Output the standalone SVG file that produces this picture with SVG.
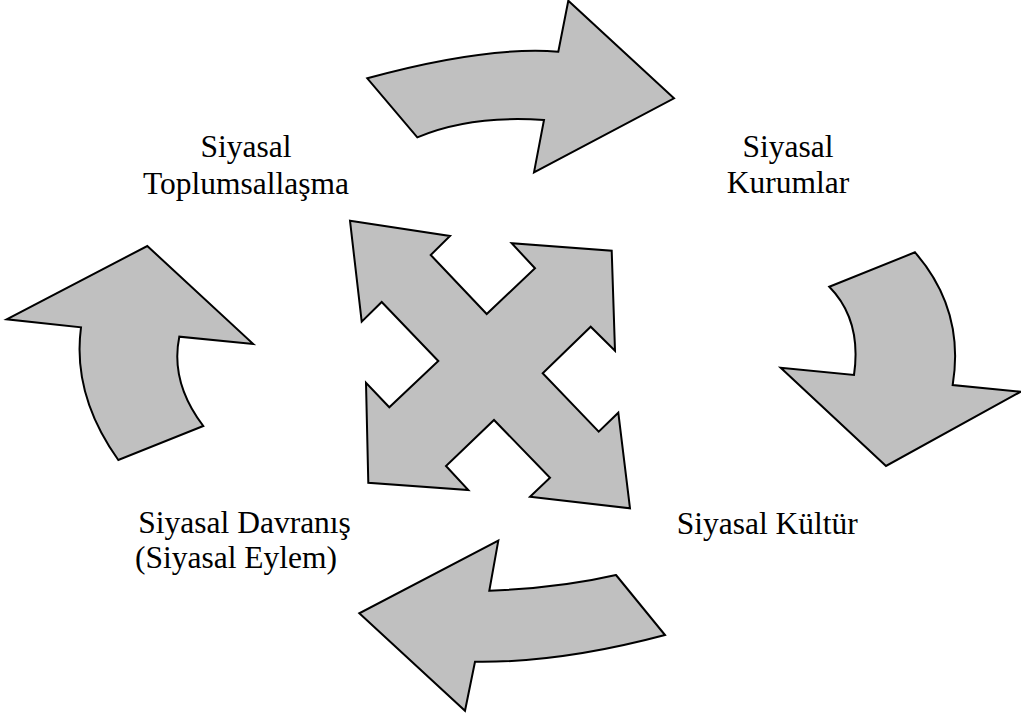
<svg xmlns="http://www.w3.org/2000/svg" width="1021" height="717" viewBox="0 0 1021 717">
<style>
.arr{fill:#c0c0c0;stroke:#000;stroke-width:2;stroke-linejoin:miter}
.lbl{font-family:"Liberation Serif","Times New Roman",serif;font-size:31.5px;fill:#000}
</style>
<rect width="1021" height="717" fill="#fff"/>
<g id="connectors">
<path id="arrow-top" class="arr" d="M367.3,78.3 Q485,46 558.3,51.7 L568.3,0.7 L674,98.3 L534,172.3 L544,120 Q470,115 417.3,137.3 Z"/>
<path id="arrow-right" class="arr" d="M829.3,286.7 L915,252.3 Q965,310 952.7,385 L1020.7,391.7 L886,466 L780.7,367.7 L854,375 Q862,320 829.3,286.7 Z"/>
<path id="arrow-bottom" class="arr" d="M616,575 L665,635 Q560,663 475,661.7 L465,710.7 L359.3,613.3 L498.3,540.7 L489.3,590.7 Q560,588 616,575 Z"/>
<path id="arrow-left" class="arr" d="M147.3,246 L253.3,344 L179.3,336.7 Q170,382 203.3,426 L118.3,460 Q72,395 81,327.3 L6.7,319.3 Z"/>
<path id="arrow-cross" class="arr" d="M350,220.7 L450,236 L430.7,255 L486.7,314 L535,268.3 L511.7,243.3 L611.7,250.7 L615,350.7 L590.7,326.7 L542.7,373.3 L598.7,431.7 L618.3,412.7 L630,508.3 L530,496.7 L550,477.7 L494,420 L446,466 L468.3,490 L368.3,482.7 L366,382.7 L389.3,407.3 L438.3,361 L381.7,302 L361.7,321.7 Z"/>
</g>
<g id="node-toplumsallasma">
<text class="lbl" x="246" y="156.7" text-anchor="middle">Siyasal</text>
<text class="lbl" x="246" y="193.5" text-anchor="middle">Toplumsallaşma</text>
</g>
<g id="node-kurumlar">
<text class="lbl" x="788" y="156.5" text-anchor="middle">Siyasal</text>
<text class="lbl" x="788" y="193" text-anchor="middle">Kurumlar</text>
</g>
<g id="node-kultur">
<text class="lbl" x="676.7" y="534">Siyasal Kültür</text>
</g>
<g id="node-davranis">
<text class="lbl" x="138.3" y="532.7">Siyasal Davranış</text>
<text class="lbl" x="135" y="568.3">(Siyasal Eylem)</text>
</g>
</svg>
